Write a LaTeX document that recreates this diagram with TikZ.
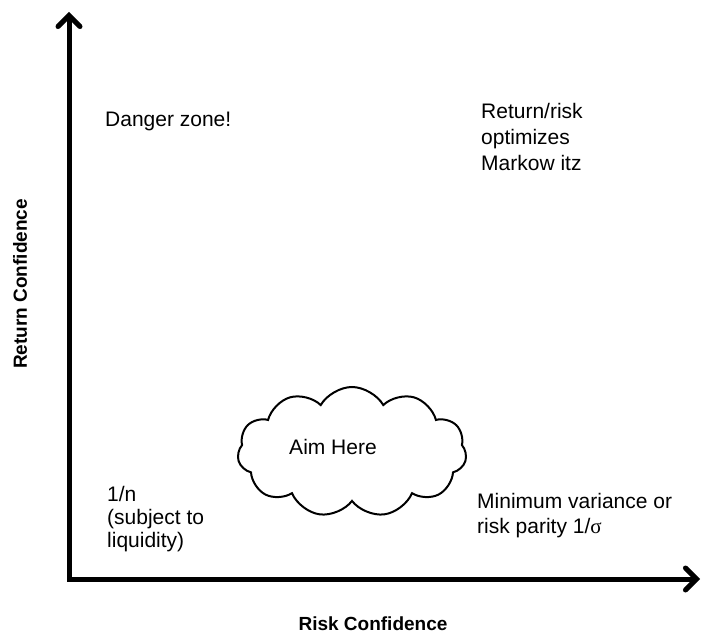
\documentclass[tikz,border=0pt]{standalone}
\usepackage{fontspec}
\setmainfont{Liberation Sans}
\newfontfamily\greekfont{Liberation Serif}
\usetikzlibrary{arrows.meta,shapes.symbols}

\tikzset{
  zone/.style={inner sep=0pt, align=left, anchor=base west},
  axislabel/.style={inner sep=0pt, font=\fontsize{19}{22}\selectfont\bfseries},
  axisline/.style={line width=5pt, line join=miter,
    {Straight Barb[length=11pt, width=22pt, line cap=round]}-{Straight Barb[length=11pt, width=22pt, line cap=round]}},
}

\begin{document}
\begin{tikzpicture}[x=1pt,y=1pt]
\useasboundingbox (0,0) rectangle (704,635);
\coordinate (O) at (69,56);
\coordinate (Y) at (69,623);
\coordinate (X) at (700,56);

\draw[axisline] (Y)--(O)--(X);

\node[zone, font=\fontsize{21}{25}\selectfont] (danger) at (105,508) {Danger zone!};
\node[zone, font=\fontsize{21}{26}\selectfont] (markowitz) at (481,464) {Return/risk\\optimizes\\Markow itz};
\node[zone, font=\fontsize{21}{23}\selectfont] (oneovern) at (107,88) {1/n\\(subject to\\liquidity)};
\node[zone, font=\fontsize{21}{25}\selectfont] (minvar) at (477,102) {Minimum variance or\\risk parity 1/{\greekfont σ}};

\node[cloud, draw, line width=2pt, cloud puffs=11, cloud puff arc=120, aspect=1.76,
  minimum width=229pt, minimum height=130pt, inner sep=0pt] (cloud) at (352,183) {};
\node[inner sep=0pt, font=\fontsize{21}{25}\selectfont] (aim) at ([xshift=-19pt,yshift=5pt]cloud.center) {Aim Here};

\node[axislabel] (xlabel) at (373,11) {Risk Confidence};
\node[axislabel, rotate=90] (ylabel) at (20,351) {Return Confidence};
\end{tikzpicture}
\end{document}
